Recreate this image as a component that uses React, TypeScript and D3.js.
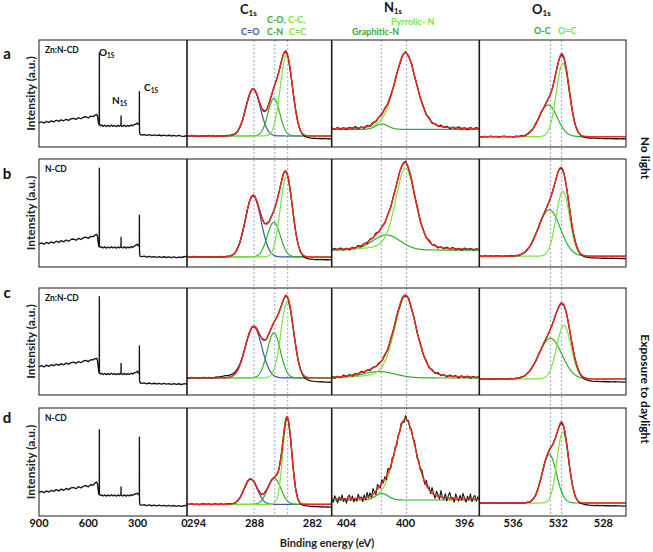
import React from 'react';
import * as d3 from 'd3';

// ================= DATA =================
const rowLetters = ['a', 'b', 'c', 'd'];
const sampleNames = ['Zn:N-CD', 'N-CD', 'Zn:N-CD', 'N-CD'];
const conditionLabels = ['No light', 'Exposure to daylight'];
const xAxisTitle = 'Binding energy (eV)';
const yAxisTitle = 'Intensity (a.u.)';

const surveyTicks = [900, 600, 300, 0];
const c1sTicks = [294, 288, 282];
const n1sTicks = [404, 400, 396];
const o1sTicks = [536, 532, 528];

const surveyDomain = [900, 0];
const c1sDomain = [295, 280];
const n1sDomain = [405, 395];
const o1sDomain = [539, 526];

const c1sRefLines = [288.05, 285.9, 284.56];
const n1sRefLines = [401.64, 399.93];
const o1sRefLines = [532.7, 531.7];

// survey spectra: shared energy grid, intensity per row (0-100 of panel height)
const surveyE = [
  900, 885, 870, 855, 840, 825, 810, 795, 780, 765, 750, 735, 720, 705, 690, 675, 660, 645, 630, 615, 600, 585, 570, 558,
  550, 545, 540, 536, 533.5, 533, 532.5, 530, 526,
  520, 510, 500, 490, 480, 470, 460, 450, 440, 430, 420, 410, 404,
  401.5, 401, 400.5, 398,
  390, 380, 370, 360, 350, 340, 330, 320, 310, 302, 296, 292,
  290, 289.5, 289, 288.5, 286, 283,
  275, 260, 245, 230, 215, 200, 185, 170, 155, 140, 125, 110, 95, 80, 65, 50, 35, 20, 5, 0,
];
const surveyA = [
  22.5, 23.6, 22.4, 23.9, 23.0, 24.4, 23.5, 25.0, 23.9, 25.4, 24.5, 25.9, 24.9, 26.4, 26.8, 25.8, 27.4, 26.4, 27.8, 28.3, 27.1, 28.9, 28.4, 29.8,
  30.4, 29.5, 24.0, 21.0, 21.5, 87.9, 21.0, 20.5, 19.8,
  20.5, 19.3, 20.4, 19.1, 20.2, 19.2, 20.5, 19.3, 20.1, 19.0, 20.3, 19.3, 20.4,
  20.5, 29.0, 20.6, 19.6,
  19.3, 20.4, 19.1, 20.2, 19.3, 20.6, 19.8, 21.0, 21.5, 22.4, 21.0, 21.6,
  22.0, 51.7, 21.0, 14.0, 12.0, 11.5,
  11.2, 11.6, 10.8, 11.5, 10.7, 11.3, 10.6, 11.2, 10.5, 11.1, 10.4, 11.0, 10.3, 10.9, 10.2, 10.8, 10.1, 9.9, 10.5, 10.0,
];
const surveyB = [
  21.3, 22.3, 21.1, 22.8, 21.7, 23.3, 22.2, 23.9, 22.7, 24.4, 23.3, 25.0, 23.9, 25.5, 25.9, 24.8, 26.6, 25.5, 27.1, 27.6, 26.5, 28.4, 28.1, 29.7,
  30.3, 29.0, 22.5, 19.0, 19.5, 91.4, 19.0, 18.6, 18.1,
  18.7, 17.6, 18.6, 17.5, 18.5, 17.6, 18.8, 17.7, 18.5, 17.4, 18.6, 17.7, 18.8,
  19.0, 27.5, 19.0, 18.2,
  17.6, 18.7, 17.5, 18.5, 17.7, 18.9, 18.1, 19.4, 20.2, 21.2, 19.6, 20.2,
  20.5, 48.0, 20.0, 13.0, 10.2, 9.8,
  9.6, 10.1, 9.2, 9.9, 9.1, 9.7, 9.0, 9.6, 8.9, 9.5, 8.8, 9.4, 8.7, 9.3, 8.6, 9.2, 8.8, 9.5, 9.8, 9.2,
];
const surveyC = [
  26.4, 27.4, 26.2, 27.9, 26.8, 28.3, 27.3, 28.8, 27.7, 29.3, 28.2, 29.8, 28.8, 30.3, 30.7, 29.6, 31.3, 30.2, 31.8, 32.4, 31.2, 33.0, 32.8, 34.0,
  34.3, 33.0, 26.0, 21.0, 21.5, 91.9, 20.5, 20.0, 19.6,
  20.2, 19.1, 20.1, 19.0, 20.0, 19.1, 20.3, 19.2, 20.0, 18.9, 20.1, 19.2, 20.3,
  20.5, 29.6, 20.5, 19.7,
  19.1, 20.2, 19.0, 20.0, 19.2, 20.4, 19.6, 20.7, 21.2, 22.2, 20.5, 21.4,
  21.5, 45.8, 21.0, 14.0, 11.5, 11.2,
  10.9, 11.4, 10.5, 11.2, 10.4, 11.0, 10.3, 10.9, 10.2, 10.8, 10.1, 10.7, 10.0, 10.6, 9.9, 10.5, 9.8, 10.4, 10.6, 10.1,
];
const surveyD = [
  21.8, 22.8, 21.6, 23.3, 22.2, 23.8, 22.7, 24.4, 23.2, 24.9, 23.8, 25.5, 24.4, 26.0, 26.4, 25.3, 27.1, 26.0, 27.6, 28.2, 27.0, 28.9, 28.6, 30.8,
  31.5, 30.2, 24.0, 20.0, 20.5, 80.0, 19.8, 19.4, 19.0,
  19.6, 18.5, 19.5, 18.4, 19.4, 18.5, 19.7, 18.6, 19.4, 18.3, 19.5, 18.6, 19.7,
  20.0, 27.0, 19.9, 19.1,
  18.5, 19.6, 18.4, 19.4, 18.6, 19.8, 19.0, 20.1, 20.6, 21.2, 19.8, 20.6,
  21.0, 73.0, 20.0, 13.0, 10.5, 10.2,
  10.0, 10.5, 9.6, 10.3, 9.5, 10.1, 9.4, 10.0, 9.3, 9.9, 9.2, 9.8, 9.1, 9.7, 9.0, 9.6, 8.9, 9.5, 9.8, 9.2,
];
const surveyRows = [surveyA, surveyB, surveyC, surveyD];

// fitted components: [centre eV, height, FWHM eV, lorentz fraction]
// C1s order: C=O, C-O/C-N, C-C/C=C
const c1sBaselines = [[10.3, 10.3], [9.3, 9.3], [16.0, 16.0], [10.8, 10.8]];
const c1sPeaks = [
  [[288.15, 44, 1.75, 0], [286.0, 35, 1.45, 0], [284.7, 75, 1.5, 0]],
  [[288.15, 57, 1.9, 0], [286.0, 32, 1.6, 0], [284.7, 74, 1.5, 0]],
  [[288.1, 48, 2.0, 0], [286.0, 42, 1.6, 0], [284.6, 71, 1.55, 0]],
  [[288.4, 23.5, 1.6, 0], [285.95, 24, 1.6, 0], [284.6, 78, 1.1, 0]],
];
// N1s order: Graphitic-N, Pyrrolic-N
const n1sBaselines = [[16.5, 16.5], [15.7, 15.7], [15.9, 15.9], [14.8, 14.8]];
const n1sPeaks = [
  [[401.6, 5, 1.0, 0], [400.0, 71.6, 1.75, 0.3]],
  [[401.3, 14, 2.2, 0], [400.0, 76, 1.6, 0.3]],
  [[401.8, 6, 2.6, 0], [400.0, 76, 1.75, 0.3]],
  [[401.6, 6, 1.0, 0], [400.0, 75, 1.7, 0.3]],
];
// O1s order: O-C, O=C
const o1sBaselines = [[9.7, 9.7], [10.0, 10.0], [15.0, 15.0], [12.0, 12.0]];
const o1sPeaks = [
  [[532.9, 29.6, 1.9, 0], [531.6, 68.5, 1.35, 0]],
  [[532.8, 43, 2.3, 0], [531.6, 60, 1.4, 0]],
  [[532.7, 38, 2.4, 0], [531.5, 50, 1.5, 0]],
  [[532.8, 45, 1.5, 0], [531.6, 66, 1.2, 0]],
];

// measured-minus-fit residuals on uniform grids
const c1sSteps = [0.25, 0.25, 0.25, 0.25];
const c1sResid = [
  [0.4, -0.3, 0.5, -0.4, 0.2, -0.5, 0.3, 0.1, -0.4, 0.5, -0.2, 0.3, -0.5, 0.2, 0.0, -0.3, 0.4, 0.2, 0.6,
    0.5, 0.3, -0.2, 0.4, -0.3, 0.5, 0.2, -0.4, 0.3, -0.2, 0.4, -0.3, 0.2, 0.5, -0.4, 0.3, -0.2, 0.4, 0.1, -0.3, 0.3, -0.2, 0.4, -0.3, 0.2, -0.4, 0.3, -0.2, -0.5,
    -0.8, -1.2, -1.6, -1.9, -2.2, -2.0, -2.4, -2.2, -2.6, -2.3, -2.7, -2.5, -2.8],
  [0.3, -0.4, 0.2, 0.5, -0.3, 0.4, -0.2, 0.3, -0.5, 0.2, 0.4, -0.3, 0.1, -0.4, 0.5, -0.2, 0.3, 0.4, 0.2,
    0.3, -0.3, 0.4, -0.2, 0.3, -0.4, 0.2, 0.4, -0.3, 0.2, -0.4, 0.3, 0.1, -0.3, 0.4, -0.2, 0.3, -0.4, 0.2, 0.3, -0.3, 0.4, -0.2, 0.2, -0.3, 0.3, -0.4, -0.2, -0.6,
    -0.9, -1.3, -1.7, -2.0, -2.1, -2.4, -2.2, -2.5, -2.3, -2.6, -2.4, -2.7, -2.5],
  [0.3, -0.4, 0.5, -0.2, 0.3, -0.4, 0.2, 0.5, -0.3, 0.4, -0.2, 0.3, 0.6, 0.8,
    1.2, 1.5, 1.9, 1.7, 2.0, 1.8, 1.6, 1.3, 0.9, 0.6,
    0.4, 0.2, -0.3, 0.3, -0.2, 0.4, -0.3, 0.2, 0.3, -0.4, 0.2, -0.2, 0.4, -0.3, 0.3, 0.2, -0.3, 0.4, -0.2, 0.3, -0.4, 0.2, -0.3, -0.6,
    -1.0, -1.6, -2.2, -2.7, -3.0, -3.3, -3.5, -3.7, -3.6, -3.9, -4.0, -4.1, -4.2],
  [0.4, -0.3, 0.5, -0.2, 0.3, -0.5, 0.2, 0.4, -0.3, 0.5, -0.4, 0.2, 0.3, -0.2, 0.4, -0.3, 0.2, 0.5, 0.3,
    0.2, -0.3, 0.4, -0.2, 0.3, -0.4, 0.3, 0.2, -0.3, 0.4, -0.2, 0.3, -0.4, 0.2, 0.3, -0.2, 0.4, -0.3, 0.2, -0.2, 0.4, -0.3, 0.3, -0.2, 0.2, -0.4, 0.3, -0.3, -0.6,
    -0.9, -1.2, -1.5, -1.8, -2.0, -2.2, -2.1, -2.4, -2.2, -2.5, -2.3, -2.6, -2.4],
];
const n1sSteps = [0.2, 0.2, 0.2, 0.1];
const n1sResid = [
  [0.8, -0.6, 1.0, -0.9, 0.5, -1.1, 0.7, -0.4, 1.2, -0.8, 0.6, -1.0, 0.9, -0.5, 1.1, -0.7, 0.4, -0.9, 0.8, -0.6,
    0.5, -0.3, 0.7, -0.8, 0.6, 1.0, -0.5, 0.8, -0.9, 0.6, -0.4, 1.0, -0.7, 0.9, -1.1, 0.6, -0.8, 1.2, -0.5, 0.9,
    -1.0, 0.7, -0.6, 1.1, -0.9, 0.5, -1.2, 0.8, -0.7, 1.0, -0.6],
  [-0.7, 0.9, -0.5, 1.1, -0.8, 0.6, -1.0, 0.8, -0.4, 1.0, -0.9, 0.5, -1.1, 0.7, -0.6, 1.2, -0.8, 0.4, -1.0, 0.9,
    -0.5, 0.8, -0.7, 0.6, -0.4, 0.9, -0.6, 0.5, -0.8, 1.0, -0.7, 0.4, -0.9, 1.1, -0.5, 0.8, -1.0, 0.6, -0.7, 0.9,
    -0.6, 1.0, -0.8, 0.5, -1.1, 0.9, -0.4, 0.7, -0.9, 0.6, -0.5],
  [0.9, -1.0, 0.6, -0.7, 1.1, -0.5, 0.8, -1.2, 0.7, -0.6, 1.0, -0.8, 0.5, -0.9, 0.7, -0.4, 1.0, -0.6, 0.8, -1.1,
    0.6, -0.5, 0.9, -0.7, 0.4, -0.6, 0.8, -0.5, 0.7, -0.9, 1.1, -0.6, 0.8, -1.0, 0.5, -0.8, 1.2, -0.7, 0.6, -0.9,
    1.0, -0.5, 0.7, -1.1, 0.9, -0.6, 0.8, -1.0, 0.5, -0.7, 0.9],
  [1.5, -2.8, 3.2, 0.4, -3.5, 2.1, -1.0, 4.0, -2.2, 0.8, -3.8, 1.9, 3.5, -1.4, 2.6, -3.0, 0.5, -2.4, 3.9, -0.6,
    1.2, -3.3, 2.8, -1.8, 4.4, -0.9,
    3.0, -2.0, 5.0, 0.5, -3.2, 4.2, 1.0, -2.6, 3.4, -1.5, 2.2, -3.0, 4.6, 0.2, -2.2, 3.0, -1.0, 2.5, -2.8, 1.5,
    -1.5, 2.8, 0.5, -2.5, 3.2, -0.8, 1.8, -2.0, 2.5, -1.2, 3.0, 0.4, -2.2, 2.0, -1.6, 3.5, 0.8, -2.4, 4.0, 1.0,
    2.5, -1.8, 5.0, 0.5, -3.0, 4.2, 1.5, -2.2, 6.0, 0.2, -1.5, 3.8, -2.8, 2.2, 5.5, -0.8, 1.0, -3.5, 4.5, 0.6,
    -2.0, 3.2, -1.2, 5.2, 0.4, -3.0, 2.6, -1.0, 4.8, -2.4, 1.8, 3.6, -1.6, 2.4, -0.5],
];
const o1sSteps = [0.25, 0.25, 0.25, 0.25];
const o1sResid = [
  [0.3, -0.4, 0.2, -0.3, 0.5, -0.2, 0.3, -0.4, 0.2, 0.4, -0.3, 0.2, -0.4, 0.3, -0.2, 0.4, -0.3, 0.2, 0.3, -0.2,
    0.4, -0.3, 0.2, -0.4, 0.3, 0.2, -0.3, 0.4, -0.2, 0.3, -0.4, 0.2, -0.3, 0.3, -0.2, 0.2, -0.5, -0.8, -1.1, -1.3,
    -1.5, -1.4, -1.7, -1.6, -1.8, -1.7, -1.9, -1.8, -2.0, -1.9, -2.1, -1.9, -2.2],
  [0.2, -0.3, 0.4, -0.2, 0.3, -0.4, 0.2, 0.3, -0.3, 0.2, -0.2, 0.4, -0.3, 0.2, -0.4, 0.3, -0.2, 0.3, -0.3, 0.2,
    0.3, -0.2, 0.4, -0.3, 0.2, -0.2, 0.3, -0.4, 0.2, -0.3, 0.3, -0.2, 0.2, -0.3, 0.2, -0.3, -0.6, -0.9, -1.2, -1.4,
    -1.6, -1.5, -1.8, -1.7, -1.9, -1.8, -2.0, -1.9, -2.1, -2.0, -2.2, -2.0, -2.3],
  [0.3, -0.2, 0.4, -0.3, 0.2, -0.4, 0.3, -0.2, 0.3, 0.2, -0.3, 0.4, -0.2, 0.3, -0.3, 0.2, -0.4, 0.3, -0.2, 0.2,
    -0.3, 0.4, -0.2, 0.3, -0.3, 0.2, -0.2, 0.3, -0.4, 0.2, -0.3, 0.3, -0.2, 0.2, -0.4, -0.3, -0.8, -1.2, -1.6, -1.9,
    -2.1, -2.3, -2.2, -2.5, -2.4, -2.6, -2.5, -2.7, -2.6, -2.8, -2.7, -2.9, -2.8],
  [0.4, -0.3, 0.2, -0.4, 0.3, -0.2, 0.4, -0.3, 0.2, -0.2, 0.3, -0.4, 0.2, 0.3, -0.3, 0.2, -0.2, 0.4, -0.3, 0.2,
    -0.2, 0.3, -0.3, 0.2, -0.4, 0.3, -0.2, 0.2, -0.3, 0.3, -0.2, 0.2, -0.3, 0.2, -0.3, -0.4, -0.8, -1.2, -1.6, -1.9,
    -2.1, -2.3, -2.2, -2.4, -2.3, -2.5, -2.4, -2.6, -2.5, -2.7, -2.6, -2.8, -2.7],
];

// ================= LAYOUT / STYLE =================
const W = 653;
const H = 552;
const colX = [39, 187, 331.7, 479.3, 626];
const rowY = [[40, 147], [159, 267], [288, 395], [408, 516]];
const letterBaselines = [59, 179, 298, 423];
const FONT = "Lato, 'Open Sans', 'DejaVu Sans', sans-serif";
const COL_BLUE = '#3d58a3';
const COL_GREEN = '#2fae2f';
const COL_LGREEN = '#79e43a';
const COL_RED = '#ee2a24';
const COL_BLACK = '#151515';
const COL_REF = '#98a8c4';
const c1sColors = [COL_BLUE, COL_GREEN, COL_LGREEN];
const twoColors = [COL_GREEN, COL_LGREEN];

const FOURLN2 = 4 * Math.LN2;
function peakValue(E: number, p: number[]) {
  const [c, h, w, m] = p;
  const d = (E - c) / w;
  return h * ((1 - m) * Math.exp(-FOURLN2 * d * d) + m / (1 + 4 * d * d));
}

function yScale(r: number) {
  return d3.scaleLinear().domain([0, 100]).range([rowY[r][1], rowY[r][0]]);
}

function SurveyPanel({ r }: { r: number }) {
  const x = d3.scaleLinear().domain(surveyDomain).range([colX[0], colX[1]]);
  const y = yScale(r);
  const vals = surveyRows[r];
  const pts = surveyE.map((e, i) => [e, vals[i]] as [number, number]).filter((p) => p[1] !== undefined);
  const line = d3.line<[number, number]>().x((d) => x(d[0])).y((d) => y(d[1]));
  return <path d={line(pts) || ''} fill="none" stroke={COL_BLACK} strokeWidth={1.35} strokeLinejoin="round" />;
}

function FitPanel({ col, r, domain, step, peaks, baseline, resid, colors, measWidth }: any) {
  const x = d3.scaleLinear().domain(domain).range([colX[col], colX[col + 1]]);
  const y = yScale(r);
  const span = domain[0] - domain[1];
  const base = (E: number) => baseline[0] + (baseline[1] - baseline[0]) * ((domain[0] - E) / span);
  const env = (E: number) => base(E) + peaks.reduce((s: number, p: number[]) => s + peakValue(E, p), 0);
  const fine = d3.range(0, Math.round(span / 0.02) + 1).map((i) => domain[0] - i * 0.02);
  const line = d3.line<[number, number]>().x((d) => x(d[0])).y((d) => y(d[1]));
  const nMeas = Math.round(span / step) + 1;
  const meas = d3.range(0, nMeas).map((i) => {
    const E = domain[0] - i * step;
    return [E, env(E) + (resid[i] ?? 0)] as [number, number];
  });
  const clipId = `clip-${col}-${r}`;
  return (
    <g>
      <clipPath id={clipId}>
        <rect x={colX[col]} y={rowY[r][0]} width={colX[col + 1] - colX[col]} height={rowY[r][1] - rowY[r][0]} />
      </clipPath>
      <g clipPath={`url(#${clipId})`}>
        {peaks.map((p: number[], k: number) => {
          const pts = fine.map((E) => [E, base(E) + peakValue(E, p)] as [number, number]);
          return <path key={k} d={line(pts) || ''} fill="none" stroke={colors[k]} strokeWidth={1.2} />;
        })}
        <path d={line(meas) || ''} fill="none" stroke={COL_BLACK} strokeWidth={measWidth || 1.3} strokeLinejoin="round" />
        <path d={line(fine.map((E) => [E, env(E)] as [number, number])) || ''} fill="none" stroke={COL_RED} strokeWidth={1.4} />
      </g>
    </g>
  );
}

function Sub({ x, y, main, sub, size, subSize, fill = '#111', dy }: any) {
  return (
    <text x={x} y={y} fontSize={size} fontWeight="bold" fill={fill} fontFamily={FONT}>
      {main}
      <tspan fontSize={subSize} dy={dy ?? size * 0.22}>{sub}</tspan>
    </text>
  );
}

export default function App() {
  const xScales = [
    d3.scaleLinear().domain(surveyDomain).range([colX[0], colX[1]]),
    d3.scaleLinear().domain(c1sDomain).range([colX[1], colX[2]]),
    d3.scaleLinear().domain(n1sDomain).range([colX[2], colX[3]]),
    d3.scaleLinear().domain(o1sDomain).range([colX[3], colX[4]]),
  ];
  const tickSets = [surveyTicks, c1sTicks, n1sTicks, o1sTicks];
  const refSets: [number, number[]][] = [[1, c1sRefLines], [2, n1sRefLines], [3, o1sRefLines]];
  const topY = rowY[0][0];
  const botY = rowY[3][1];

  return (
    <svg width={W} height={H} style={{ position: 'absolute', left: 0, top: 0, display: 'block', background: '#fff' }} fontFamily={FONT}>
      <rect x={0} y={0} width={W} height={H} fill="#fff" />

      {/* reference dashed lines */}
      {refSets.map(([c, lines]) =>
        lines.map((e, k) => (
          <line key={`${c}-${k}`} x1={xScales[c](e)} x2={xScales[c](e)} y1={topY} y2={botY} stroke={COL_REF} strokeWidth={1} strokeDasharray="2,2" />
        ))
      )}

      {/* panels */}
      {rowLetters.map((_, r) => (
        <g key={r}>
          <SurveyPanel r={r} />
          <FitPanel col={1} r={r} domain={c1sDomain} step={c1sSteps[r]} peaks={c1sPeaks[r]} baseline={c1sBaselines[r]} resid={c1sResid[r]} colors={c1sColors} />
          <FitPanel col={2} r={r} domain={n1sDomain} step={n1sSteps[r]} peaks={n1sPeaks[r]} baseline={n1sBaselines[r]} resid={n1sResid[r]} colors={twoColors} measWidth={r === 3 ? 1.1 : 1.3} />
          <FitPanel col={3} r={r} domain={o1sDomain} step={o1sSteps[r]} peaks={o1sPeaks[r]} baseline={o1sBaselines[r]} resid={o1sResid[r]} colors={twoColors} />
          {/* frames */}
          <rect x={colX[0]} y={rowY[r][0]} width={colX[4] - colX[0]} height={rowY[r][1] - rowY[r][0]} fill="none" stroke="#1a1a1a" strokeWidth={1} />
          {[1, 2, 3].map((c) => (
            <line key={c} x1={colX[c]} x2={colX[c]} y1={rowY[r][0]} y2={rowY[r][1]} stroke="#1a1a1a" strokeWidth={1.6} />
          ))}
          {/* labels */}
          <text x={7} y={letterBaselines[r]} fontSize={15} fontWeight="bold" textAnchor="middle" fill="#111">{rowLetters[r]}</text>
          <text x={45} y={rowY[r][0] + 13} fontSize={8.5} fontWeight="bold" fill="#111">{sampleNames[r]}</text>
          <text
            transform={`translate(35,${(rowY[r][0] + rowY[r][1]) / 2}) rotate(-90)`}
            fontSize={12}
            fontWeight="bold"
            textAnchor="middle"
            fill="#222"
          >
            {yAxisTitle}
          </text>
        </g>
      ))}

      {/* survey annotations (row a) */}
      <Sub x={99} y={56} main="O" sub="1S" size={10} subSize={6.5} />
      <Sub x={112} y={104} main="N" sub="1S" size={10} subSize={6.5} />
      <Sub x={144} y={91} main="C" sub="1S" size={10} subSize={6.5} />

      {/* column headers */}
      <Sub x={240} y={14} main="C" sub="1s" size={13} subSize={8} dy={2} />
      <Sub x={384} y={12} main="N" sub="1s" size={13} subSize={7.5} dy={1.5} />
      <Sub x={532} y={14} main="O" sub="1s" size={13} subSize={8} dy={2} />

      <g fontSize={9} fontWeight="bold">
        <text x={241} y={35} fill={COL_BLUE}>C=O</text>
        <text x={267} y={23} fill={COL_GREEN}>C-O,</text>
        <text x={267} y={35} fill={COL_GREEN}>C-N</text>
        <text x={288} y={23} fill={COL_LGREEN}>C-C,</text>
        <text x={289} y={35} fill={COL_LGREEN}>C=C</text>
        <text x={391} y={25} fill={COL_LGREEN}>Pyrrolic- N</text>
        <text x={352} y={35} fill={COL_GREEN}>Graphitic-N</text>
        <text x={534} y={34} fill={COL_GREEN}>O-C</text>
        <text x={558} y={34} fill={COL_LGREEN}>O=C</text>
      </g>

      {/* tick labels */}
      {tickSets.map((ticks, c) =>
        ticks.map((t) => (
          <text key={`${c}-${t}`} x={xScales[c](t) + (c === 0 && t === 0 ? -2.5 : 0)} y={527} fontSize={11} fontWeight="bold" textAnchor="middle" fill="#111">
            {t}
          </text>
        ))
      )}
      <text x={327} y={547} fontSize={11} fontWeight="bold" textAnchor="middle" fill="#222">{xAxisTitle}</text>

      {/* condition labels */}
      <text transform={`translate(641,158) rotate(90)`} fontSize={12} fontWeight="bold" textAnchor="middle" fill="#111">{conditionLabels[0]}</text>
      <text transform={`translate(641,389) rotate(90)`} fontSize={12} fontWeight="bold" textAnchor="middle" fill="#111">{conditionLabels[1]}</text>
    </svg>
  );
}
